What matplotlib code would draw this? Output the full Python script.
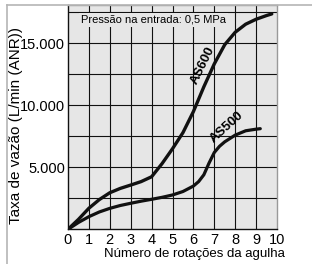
import matplotlib
matplotlib.use("Agg")
import matplotlib.pyplot as plt
from matplotlib.lines import Line2D

plt.rcParams["font.family"] = ["Liberation Sans", "DejaVu Sans"]

# values
as600_x = [0, 0.25, 0.5, 1, 1.5, 2, 2.5, 3, 3.5, 4, 4.5, 5, 5.5, 6, 6.5, 7, 7.5, 8, 8.5, 9, 9.5, 9.75]
as600_y = [0, 400, 800, 1700, 2400, 2950, 3300, 3570, 3850, 4240, 5300, 6500, 7800, 9500,
           11500, 13350, 14900, 15900, 16550, 16950, 17250, 17380]
as500_x = [0, 0.5, 1, 1.5, 2, 2.5, 3, 3.5, 4, 4.5, 5, 5.5, 6, 6.25, 6.5, 6.75, 7, 7.25, 7.5, 8, 8.5, 9, 9.2]
as500_y = [0, 550, 1020, 1400, 1690, 1920, 2100, 2270, 2420, 2580, 2770, 3050, 3490, 3850,
           4400, 5350, 6200, 6700, 7060, 7600, 7950, 8080, 8120]
x_ticks = list(range(0, 11))
y_ticks = [5000, 10000, 15000]
y_tick_labels = ["5.000", "10.000", "15.000"]
grid_y = [2500, 5000, 7500, 10000, 12500, 15000, 17500]

W, H = 312, 264
fig = plt.figure(figsize=(W / 100, H / 100), dpi=100)
ax = fig.add_axes([68 / W, 1 - 229.3 / H, (277 - 68) / W, (229.3 - 5) / H])
ax.set_facecolor("#e6e6e6")
ax.set_xlim(0, 10)
ax.set_ylim(0, 18100)

for gx in x_ticks[1:-1]:
    ax.axvline(gx, color="#111111", lw=0.8, zorder=1)
for gy in grid_y:
    ax.axhline(gy, color="#111111", lw=0.8, zorder=1)

ax.plot(as600_x, as600_y, color="#111111", lw=2.4, solid_capstyle="round", zorder=3)
ax.plot(as500_x, as500_y, color="#111111", lw=2.3, solid_capstyle="round", zorder=3)

ax.text(6.45, 13190, "AS600", rotation=64, fontsize=9.5, fontweight="bold",
        ha="center", va="center", zorder=4)
ax.text(7.6, 8200, "AS500", rotation=42, fontsize=9.5, fontweight="bold",
        ha="center", va="center", zorder=4)
ax.text(0.62, 16900, "Pressão na entrada: 0,5 MPa", fontsize=8, ha="left", va="center",
        zorder=4, bbox=dict(facecolor="#e6e6e6", edgecolor="none", pad=1.5))

ax.set_xticks(x_ticks)
ax.set_yticks(y_ticks)
ax.set_yticklabels(y_tick_labels)
ax.tick_params(length=0, labelsize=10.5, pad=2)
ax.tick_params(axis="x", pad=3)

for side in ["left", "bottom"]:
    ax.spines[side].set_color("#111111")
    ax.spines[side].set_linewidth(1.0)
for side in ["top", "right"]:
    ax.spines[side].set_color("#999999")
    ax.spines[side].set_linewidth(1.0)

fig.text(16 / W, 1 - 126 / H, "Taxa de vazão (L/min (ANR))", rotation=90,
         fontsize=11, ha="center", va="center")
fig.text(194 / W, 1 - 254 / H, "Número de rotações da agulha", fontsize=9.5,
         ha="center", va="center")

# light outer frame
fig.add_artist(Line2D([7 / W, 1], [1 - 5 / H, 1 - 5 / H], color="#b5b5b5", lw=1.2))
fig.add_artist(Line2D([7 / W, 7 / W], [0, 1 - 5 / H], color="#b5b5b5", lw=1.2))

fig.savefig("out.png", dpi=100)
